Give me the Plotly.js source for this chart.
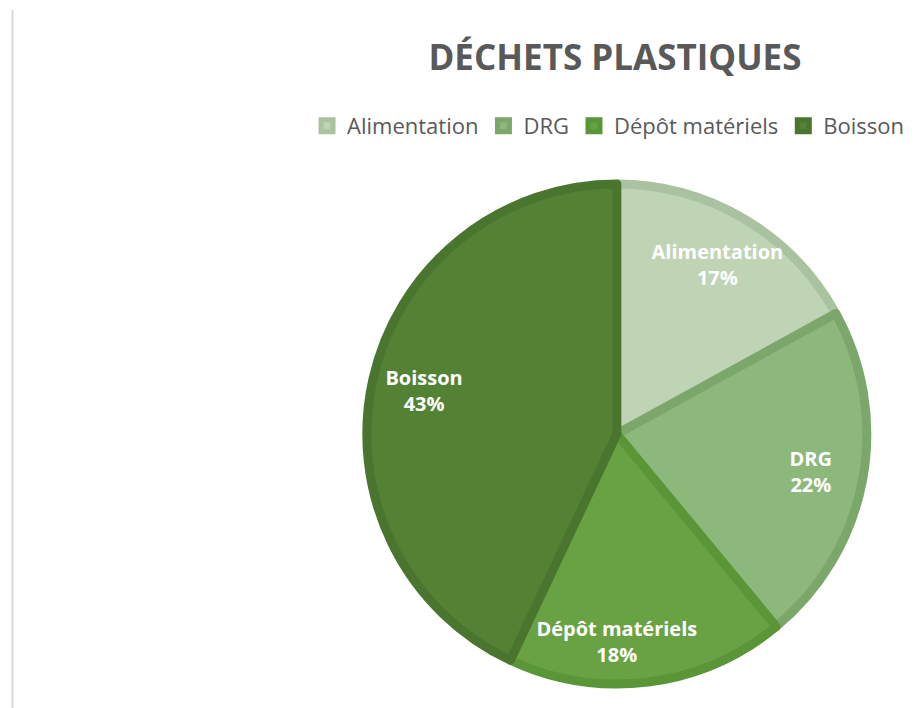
<!DOCTYPE html>
<html>
<head>
<meta charset="utf-8">
<script src="https://cdn.plot.ly/plotly-3.0.1.min.js"></script>
<style>
  html, body { margin: 0; padding: 0; background: #ffffff; }
  #chart { width: 922px; height: 708px; }
</style>
</head>
<body>
<div id="chart"></div>
<script>
// Pie data: plastic waste by category
const categories = ['Alimentation', 'DRG', 'Dépôt matériels', 'Boisson'];
const shares = [17, 22, 18, 43];

// Fill and inner border colours per slice
const fillColors = ['#bfd4b5', '#8db87b', '#68a242', '#548235'];
const borderColors = ['#a9c29f', '#7ba86a', '#5a9537', '#4a752e'];

const pieDomain = { x: [0.3975, 0.9405], y: [0.0339, 0.7401] };

// Slices with their borders
const slices = {
    type: 'pie',
    labels: categories,
    values: shares,
    sort: false,
    direction: 'clockwise',
    rotation: 0,
    domain: pieDomain,
    marker: {
        colors: fillColors,
        line: { color: borderColors, width: 9 }
    },
    textinfo: 'none',
    hoverinfo: 'none'
};

// Transparent ring on top, only to place labels out near the rim like the original
const labelRing = {
    type: 'pie',
    labels: categories,
    values: shares,
    sort: false,
    direction: 'clockwise',
    rotation: 0,
    hole: 0.58,
    domain: pieDomain,
    showlegend: false,
    marker: {
        colors: ['rgba(0,0,0,0)', 'rgba(0,0,0,0)', 'rgba(0,0,0,0)', 'rgba(0,0,0,0)'],
        line: { width: 0 }
    },
    texttemplate: '<b>%{label}<br>%{percent:.0%}</b>',
    textposition: 'inside',
    insidetextorientation: 'horizontal',
    textfont: { family: 'Open Sans, sans-serif', size: 20, color: '#ffffff' },
    hoverinfo: 'none'
};

const layout = {
    width: 922,
    height: 708,
    margin: { l: 0, r: 0, t: 0, b: 0 },
    paper_bgcolor: '#ffffff',
    uniformtext: { mode: 'show', minsize: 20 },
    title: {
        text: '<b>DÉCHETS PLASTIQUES</b>',
        x: 0.667,
        xanchor: 'center',
        xref: 'paper',
        y: 0.918,
        yanchor: 'middle',
        yref: 'container',
        font: { family: 'Open Sans, sans-serif', size: 35, color: '#595959' }
    },
    showlegend: true,
    legend: {
        orientation: 'h',
        x: 0.333,
        xanchor: 'left',
        y: 0.822,
        yanchor: 'middle',
        font: { family: 'Open Sans, sans-serif', size: 22, color: '#595959' },
        itemwidth: 30,
        traceorder: 'normal'
    },
    shapes: [{
        type: 'line',
        xref: 'paper', yref: 'paper',
        x0: 0.0135, x1: 0.0135,
        y0: 0, y1: 0.986,
        line: { color: '#d9d9d9', width: 2 }
    }]
};

Plotly.newPlot('chart', [slices, labelRing], layout, { displayModeBar: false, staticPlot: true });
</script>
</body>
</html>
